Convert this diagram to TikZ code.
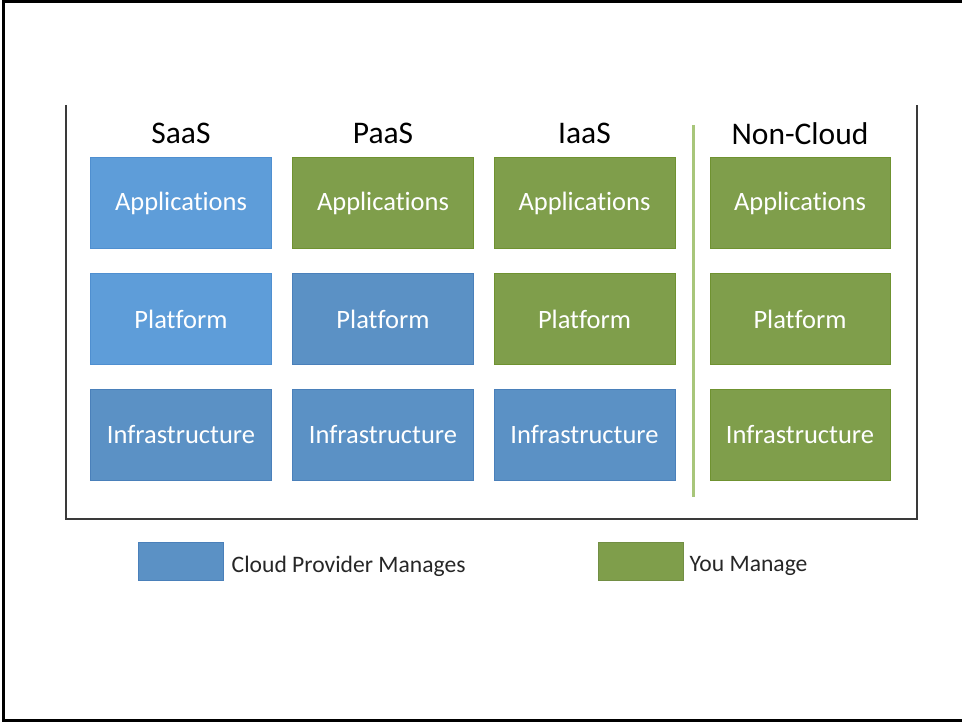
\documentclass[tikz,border=0pt]{standalone}
\usepackage{fontspec}
\setmainfont{Carlito}[Ligatures=NoCommon]
\definecolor{lblue}{HTML}{5E9DD9}
\definecolor{dblue}{HTML}{5B91C5}
\definecolor{lbedge}{HTML}{4F8FD0}
\definecolor{dbedge}{HTML}{4A80BA}
\definecolor{mgreen}{HTML}{7F9E4B}
\definecolor{gedge}{HTML}{6F9230}
\definecolor{sepgreen}{HTML}{A8C67A}
\definecolor{frame}{HTML}{3A3A3A}
\tikzset{
  cell/.style={minimum width=181bp, minimum height=91bp, inner sep=0pt, text=white,
    font=\fontsize{26.5bp}{28bp}\selectfont, line width=1bp},
  lb/.style={cell, fill=lblue, draw=lbedge},
  db/.style={cell, fill=dblue, draw=dbedge},
  gr/.style={cell, fill=mgreen, draw=gedge},
  head/.style={font=\fontsize{31.5bp}{33bp}\selectfont, text=black, inner sep=0pt},
  legbox/.style={minimum width=85bp, minimum height=38bp, inner sep=0pt, line width=0.8bp},
  legtext/.style={font=\fontsize{23.6bp}{25bp}\selectfont, text=black!85, inner sep=0pt, anchor=west},
}
\begin{document}
\begin{tikzpicture}[x=1bp,y=-1bp]
\useasboundingbox (0,0) rectangle (962,722);
% outer border (top, left, bottom)
\draw[line width=3bp, black] (962,2) -- (3,2) -- (3,720.5) -- (962,720.5);
% inner frame (open top)
\draw[line width=2.2bp, frame] (66,105) -- (66,519) -- (917,519) -- (917,105);
% separator
\draw[line width=3bp, sepgreen] (693,125) -- (693,497);
% headers
\node[head] (hS) at (181,133.5) {SaaS};
\node[head] (hP) at (383,133.5) {PaaS};
\node[head] (hI) at (584.5,133.5) {IaaS};
\node[head] (hN) at (800,133.5) {Non-Cloud};
% rows
\node[lb] (sA) at (181,203) {Applications};
\node[lb] (sP) at (181,319) {Platform};
\node[db] (sI) at (181,435) {Infrastructure};
\node[gr] (pA) at (383,203) {Applications};
\node[db] (pP) at (383,319) {Platform};
\node[db] (pI) at (383,435) {Infrastructure};
\node[gr] (iA) at (584.5,203) {Applications};
\node[gr] (iP) at (584.5,319) {Platform};
\node[db] (iI) at (584.5,435) {Infrastructure};
\node[gr, minimum width=180bp] (nA) at (800,203) {Applications};
\node[gr, minimum width=180bp] (nP) at (800,319) {Platform};
\node[gr, minimum width=180bp] (nI) at (800,435) {Infrastructure};
% legend
\node[legbox, fill=dblue, draw=dbedge] (lgB) at (181,561) {};
\node[legtext] (lgBt) at (231.5,566) {Cloud Provider Manages};
\node[legbox, fill=mgreen, draw=mgreen!90!black] (lgG) at (640.5,561) {};
\node[legtext] (lgGt) at (689.5,566) {You Manage};
\end{tikzpicture}
\end{document}
